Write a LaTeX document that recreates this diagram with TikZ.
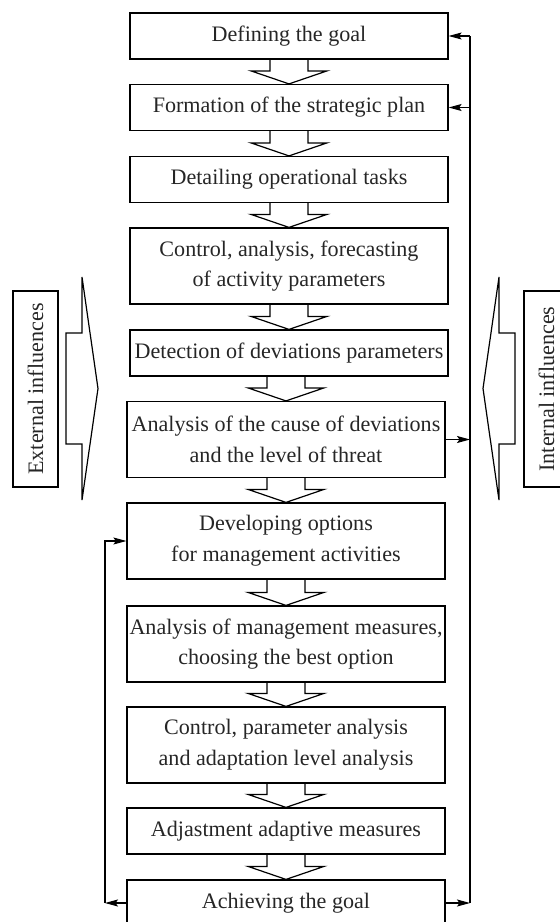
\documentclass[tikz,border=0pt]{standalone}
\usepackage{fontspec}
\setmainfont{Liberation Serif}
\usetikzlibrary{arrows.meta,calc}
\begin{document}
\begin{tikzpicture}[x=1pt,y=-1pt,line width=1.2pt,
  box/.style={draw,minimum width=318pt,inner sep=2pt,align=center,
    font=\fontsize{22.1}{30.7}\selectfont,text=black!85},
  onebox/.style={box,minimum height=46pt},
  twobox/.style={box,minimum height=76pt},
  sidebox/.style={draw,rotate=90,minimum width=196pt,minimum height=45pt,inner sep=2pt,
    font=\fontsize{22.1}{30.7}\selectfont,text=black!85},
  fb/.style={-{Stealth[length=13pt,width=7pt,inset=2.5pt]},line width=1.1pt},
  fbline/.style={line width=1.1pt},
  hollow/.style={line width=1.2pt,line join=miter}]
\useasboundingbox (0,0) rectangle (560,922);
\newcommand{\hollowarrow}[2]{%
  \draw[hollow] ($(#1.south -| #2.north)+(-19,0)$) -- ($(#2.north)+(-19,-13)$)
    -- ($(#2.north)+(-38,-13)$) -- (#2.north) -- ($(#2.north)+(38,-13)$)
    -- ($(#2.north)+(19,-13)$) -- ($(#1.south -| #2.north)+(19,0)$);}
% boxes
\node[onebox] (b1) at (289,36) {Defining the goal};
\node[onebox] (b2) at (289,107.5) {Formation of the strategic plan};
\node[onebox] (b3) at (289,179.5) {Detailing operational tasks};
\node[twobox] (b4) at (289,266) {Control, analysis, forecasting\\of activity parameters};
\node[onebox] (b5) at (289,353) {Detection of deviations parameters};
\node[twobox] (b6) at (286,439.5) {Analysis of the cause of deviations\\and the level of threat};
\node[twobox] (b7) at (286,541) {Developing options\\for management activities};
\node[twobox] (b8) at (286,644) {Analysis of management measures,\\choosing the best option};
\node[twobox] (b9) at (286,745) {Control, parameter analysis\\and adaptation level analysis};
\node[onebox] (b10) at (286,831) {Adjastment adaptive measures};
\node[onebox] (b11) at (286,903) {Achieving the goal};
% hollow arrows
\hollowarrow{b1}{b2}
\hollowarrow{b2}{b3}
\hollowarrow{b3}{b4}
\hollowarrow{b4}{b5}
\hollowarrow{b5}{b6}
\hollowarrow{b6}{b7}
\hollowarrow{b7}{b8}
\hollowarrow{b8}{b9}
\hollowarrow{b9}{b10}
\hollowarrow{b10}{b11}
% side influences
\node[sidebox] (ext) at (35.5,389) {External influences};
\node[sidebox] (int) at (546.5,389) {Internal influences};
\draw[hollow] (66,333) -- (82,333) -- (82,277) -- (98,388.5) -- (82,500) -- (82,444) -- (66,444) -- cycle;
\draw[hollow] (515,333) -- (499,333) -- (499,277) -- (483,388.5) -- (499,500) -- (499,444) -- (515,444) -- cycle;
% feedback lines
\coordinate (rx) at (470,0);
\coordinate (lx) at (105,0);
\draw[fb] (b11.east) -- (b11.east -| rx);
\draw[fbline] (b11.east -| rx) -- (b1.east -| rx);
\draw[fb] (b1.east -| rx) -- (b1.east);
\draw[fb] (b2.east -| rx) -- (b2.east);
\draw[fb] (b6.east) -- (b6.east -| rx);
\draw[fb] (b11.west) -- (b11.west -| lx);
\draw[fb] (b11.west -| lx) |- (b7.west);
\end{tikzpicture}
\end{document}
